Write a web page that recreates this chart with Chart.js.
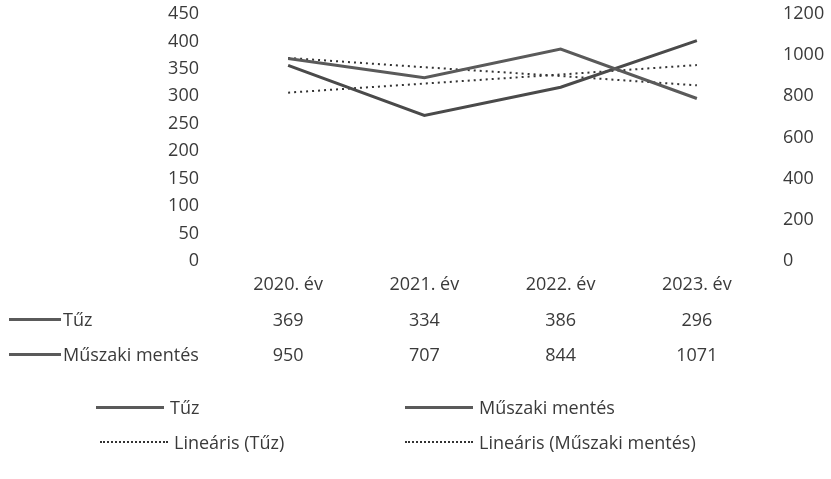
<!DOCTYPE html>
<html>
<head>
<meta charset="utf-8">
<script src="https://cdn.jsdelivr.net/npm/chart.js@4"></script>
<style>
  html, body { margin: 0; padding: 0; background: #fff; }
  #wrap { position: relative; width: 831px; height: 479px; overflow: hidden;
          font-family: "Open Sans", sans-serif; color: #3a3a3a; }
  #chart { position: absolute; left: 0; top: 0; }
  .txt { position: absolute; font-size: 18px; line-height: 20px; white-space: nowrap; }
  .key { position: absolute; height: 0; }
  .solid { border-top: 3px solid #5a5a5a; }
  .dot { border-top: 2px dotted #333; }
</style>
</head>
<body>
<div id="wrap">
  <canvas id="chart" width="831" height="479"></canvas>
</div>
<script>
// data
const kategoriak = ['2020. év', '2021. év', '2022. év', '2023. év'];
const tuz = [369, 334, 386, 296];
const muszaki = [950, 707, 844, 1071];
// trendvonalak
const trendTuz = [370, 353, 337, 320];
const trendMuszaki = [818, 862, 906, 952];
const balTengely = { min: 0, max: 450, lepes: 50 };
const jobbTengely = { min: 0, max: 1200, lepes: 200 };

const betu = { family: '"Open Sans", sans-serif', size: 18 };
const szin = '#3a3a3a';

const ctx = document.getElementById('chart').getContext('2d');
const chart = new Chart(ctx, {
    type: 'line',
    data: {
        labels: kategoriak,
        datasets: [
            { label: 'Tűz', data: tuz, yAxisID: 'y', borderColor: '#5a5a5a', borderWidth: 3, pointRadius: 0, tension: 0 },
            { label: 'Műszaki mentés', data: muszaki, yAxisID: 'y1', borderColor: '#4a4a4a', borderWidth: 3, pointRadius: 0, tension: 0 },
            { label: 'Lineáris (Tűz)', data: trendTuz, yAxisID: 'y', borderColor: '#333', borderWidth: 2, borderDash: [2, 4], pointRadius: 0 },
            { label: 'Lineáris (Műszaki mentés)', data: trendMuszaki, yAxisID: 'y1', borderColor: '#333', borderWidth: 2, borderDash: [2, 4], pointRadius: 0 }
        ]
    },
    options: {
        responsive: false,
        animation: false,
        // a rajzterület: x 220..765, y 14..261
        layout: { padding: { left: 150, right: 6, top: 14, bottom: 218 } },
        plugins: { legend: { display: false }, tooltip: { enabled: false } },
        scales: {
            x: {
                offset: true,
                grid: { display: false }, border: { display: false },
                ticks: { display: false },
                afterFit: s => { s.height = 0; }
            },
            y: {
                position: 'left', min: balTengely.min, max: balTengely.max,
                // a tickLength csak a feliratot tolja el, a vonal nem látszik
                grid: { display: false, drawTicks: true, tickLength: 21 }, border: { display: false },
                ticks: { stepSize: balTengely.lepes, color: szin, font: betu, padding: 0 },
                afterFit: s => { s.width = 70; }
            },
            y1: {
                position: 'right', min: jobbTengely.min, max: jobbTengely.max,
                grid: { display: false, drawTicks: true, tickLength: 18 }, border: { display: false },
                ticks: { stepSize: jobbTengely.lepes, color: szin, font: betu, padding: 0,
                         callback: v => String(v) },
                afterFit: s => { s.width = 60; }
            }
        }
    }
});

// adattábla + jelmagyarázat HTML-ben
const wrap = document.getElementById('wrap');
function szoveg(t, x, y, igazit) {
    const d = document.createElement('div');
    d.className = 'txt';
    d.textContent = t;
    d.style.top = (y - 10) + 'px';
    if (igazit === 'center') { d.style.left = (x - 50) + 'px'; d.style.width = '100px'; d.style.textAlign = 'center'; }
    else d.style.left = x + 'px';
    wrap.appendChild(d);
}
function kulcs(tipus, x, y, w) {
    const d = document.createElement('div');
    d.className = 'key ' + tipus;
    d.style.left = x + 'px'; d.style.top = y + 'px'; d.style.width = w + 'px';
    wrap.appendChild(d);
}

// kategóriák a tengely alatt
kategoriak.forEach((k, i) => szoveg(k, chart.scales.x.getPixelForValue(i), 283, 'center'));

const sorok = [
    { nev: 'Tűz', ertekek: tuz, y: 319 },
    { nev: 'Műszaki mentés', ertekek: muszaki, y: 354 }
];
sorok.forEach(sor => {
    kulcs('solid', 9, sor.y - 1, 52);
    szoveg(sor.nev, 63, sor.y);
    sor.ertekek.forEach((v, i) => szoveg(String(v), chart.scales.x.getPixelForValue(i), sor.y, 'center'));
});

const jelek = [
    { nev: 'Tűz', tipus: 'solid', x: 96, y: 407 },
    { nev: 'Műszaki mentés', tipus: 'solid', x: 405, y: 407 },
    { nev: 'Lineáris (Tűz)', tipus: 'dot', x: 100, y: 442 },
    { nev: 'Lineáris (Műszaki mentés)', tipus: 'dot', x: 405, y: 442 }
];
jelek.forEach(j => {
    kulcs(j.tipus, j.x, j.y - 1, 68);
    szoveg(j.nev, j.x + 74, j.y);
});
</script>
</body>
</html>
